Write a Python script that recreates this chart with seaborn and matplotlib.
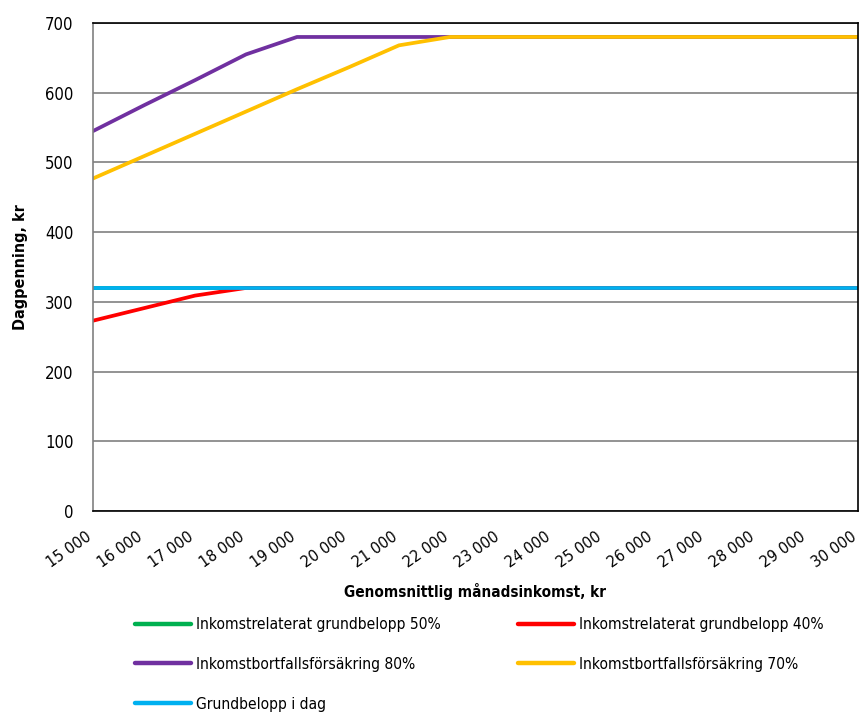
import matplotlib
matplotlib.use("Agg")
import matplotlib.pyplot as plt
import matplotlib.transforms as mtransforms
import seaborn as sns
import pandas as pd

# Monthly income (kr) and daily allowance (kr) per scheme
income = [15000, 16000, 17000, 18000, 19000, 20000, 21000, 22000,
          23000, 24000, 25000, 26000, 27000, 28000, 29000, 30000]
grund_50 = [320, 320, 320, 320, 320, 320, 320, 320,
            320, 320, 320, 320, 320, 320, 320, 320]
grund_40 = [273, 291, 309, 320, 320, 320, 320, 320,
            320, 320, 320, 320, 320, 320, 320, 320]
bortfall_80 = [545, 582, 618, 655, 680, 680, 680, 680,
               680, 680, 680, 680, 680, 680, 680, 680]
bortfall_70 = [477, 509, 541, 573, 605, 636, 668, 680,
               680, 680, 680, 680, 680, 680, 680, 680]
grund_idag = [320, 320, 320, 320, 320, 320, 320, 320,
              320, 320, 320, 320, 320, 320, 320, 320]

series_names = ["Inkomstrelaterat grundbelopp 50%",
                "Inkomstrelaterat grundbelopp 40%",
                "Inkomstbortfallsförsäkring 80%",
                "Inkomstbortfallsförsäkring 70%",
                "Grundbelopp i dag"]
series_values = [grund_50, grund_40, bortfall_80, bortfall_70, grund_idag]
colors = ["#00B050", "#FF0000", "#7030A0", "#FFC000", "#00B0F0"]

x_ticks = list(range(15000, 30001, 1000))
x_labels = [f"{v // 1000} 000" for v in x_ticks]
y_ticks = [0, 100, 200, 300, 400, 500, 600, 700]

sns.set_theme(style="white")
plt.rcParams["font.family"] = ["DejaVu Sans"]
plt.rcParams["font.stretch"] = "condensed"
plt.rcParams["text.color"] = "#000000"
plt.rcParams["axes.labelcolor"] = "#000000"
plt.rcParams["xtick.color"] = "#000000"
plt.rcParams["ytick.color"] = "#000000"

rows = []
for name, vals in zip(series_names, series_values):
    for xv, yv in zip(income, vals):
        rows.append({"income": xv, "value": yv, "series": name})
df = pd.DataFrame(rows)

fig = plt.figure(figsize=(8.61, 7.13), dpi=100)
ax = fig.add_axes([0.108, 0.2833, 0.8885, 0.6844])

sns.lineplot(data=df, x="income", y="value", hue="series",
             hue_order=series_names, palette=colors, linewidth=2.7,
             ax=ax, legend=False)

ax.set_xlim(15000, 30000)
ax.set_ylim(0, 700)
ax.set_yticks(y_ticks)
ax.set_yticklabels([str(v) for v in y_ticks], fontsize=12)
ax.set_xticks(x_ticks)
ax.set_xticklabels(x_labels, rotation=35, ha="right", va="top",
                   rotation_mode="anchor", fontsize=11.5)
ax.tick_params(axis="x", pad=13, length=0)
ax.tick_params(axis="y", pad=14, length=0)

# Nudge the rotated income labels slightly left of their ticks
shift = mtransforms.ScaledTranslation(-5 / 72, 0, fig.dpi_scale_trans)
for lbl in ax.get_xticklabels():
    lbl.set_transform(lbl.get_transform() + shift)

ax.yaxis.grid(True, color="#808080", linewidth=1.2)
ax.set_axisbelow(True)
for side in ["top", "right", "bottom"]:
    ax.spines[side].set_color("#000000")
    ax.spines[side].set_linewidth(1.2)
ax.spines["left"].set_color("#808080")
ax.spines["left"].set_linewidth(1.2)

ax.set_xlabel("Genomsnittlig månadsinkomst, kr", fontsize=11,
              fontweight="bold", labelpad=9)
ax.set_ylabel("Dagpenning, kr", fontsize=11.5, fontweight="bold", labelpad=12)

# Legend in two separate columns
handles = [plt.Line2D([], [], color=c, linewidth=3.2) for c in colors]
legend_kw = dict(loc="upper left", frameon=False, fontsize=11.2,
                 handlelength=3.6, handletextpad=0.3, labelspacing=1.6,
                 borderpad=0, borderaxespad=0)
leg1 = fig.legend([handles[i] for i in (0, 2, 4)],
                  [series_names[i] for i in (0, 2, 4)],
                  bbox_to_anchor=(135 / 861, 1 - 617 / 713), **legend_kw)
leg2 = fig.legend([handles[i] for i in (1, 3)],
                  [series_names[i] for i in (1, 3)],
                  bbox_to_anchor=(518 / 861, 1 - 617 / 713), **legend_kw)

fig.savefig("out.png", dpi=100)
